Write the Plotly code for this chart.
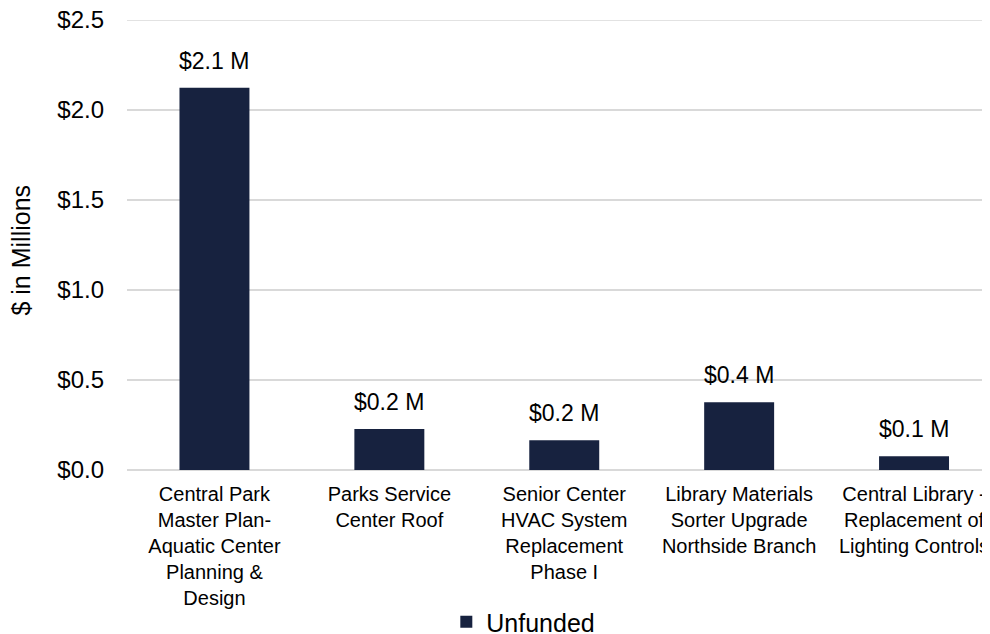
import plotly.graph_objects as go

categories = [
    "Central Park Master Plan-Aquatic Center Planning & Design",
    "Parks Service Center Roof",
    "Senior Center HVAC System Replacement Phase I",
    "Library Materials Sorter Upgrade Northside Branch",
    "Central Library - Replacement of Lighting Controls",
]
tick_labels = [
    "Central Park<br>Master Plan-<br>Aquatic Center<br>Planning &<br>Design",
    "Parks Service<br>Center Roof",
    "Senior Center<br>HVAC System<br>Replacement<br>Phase I",
    "Library Materials<br>Sorter Upgrade<br>Northside Branch",
    "Central Library -<br>Replacement of<br>Lighting Controls",
]
unfunded = [2.124, 0.228, 0.165, 0.376, 0.076]
y_ticks = [0.0, 0.5, 1.0, 1.5, 2.0, 2.5]
y_tick_text = ["$0.0", "$0.5", "$1.0", "$1.5", "$2.0", "$2.5"]

FONT = "Liberation Sans, Arial, sans-serif"
BAR = "#17223F"
GRID = "#D9D9D9"

# page body has an 8px default margin; size the figure to fill the rest
OFF = 8
W, H = 990 - OFF, 634 - OFF
L, R, T = 126.5 - OFF, 0, 20 - OFF
PH = 450
B = H - T - PH
pw = W - L - R


def px_x(sx):
    return (sx - 126.5) / pw


def px_y(sy):
    return (470 - sy) / PH


fig = go.Figure()
fig.add_trace(go.Bar(
    x=categories, y=unfunded, name="Unfunded",
    marker=dict(color=BAR, line=dict(width=0)),
    width=0.4,
))

for c, v in zip(categories, unfunded):
    fig.add_annotation(
        x=c, y=v, xref="x", yref="y",
        text=f"${v:.1f} M", showarrow=False,
        yanchor="middle", yshift=27,
        font=dict(family=FONT, size=23, color="#000000"),
    )

# top gridline (plotly omits the gridline at the very edge of the range)
fig.add_shape(
    type="line", xref="paper", yref="y",
    x0=0, x1=1, y0=y_ticks[-1], y1=y_ticks[-1],
    line=dict(color=GRID, width=1.5), layer="below",
)

fig.add_annotation(
    xref="paper", yref="paper",
    x=px_x(20), y=px_y(250),
    text="$ in Millions", textangle=-90, showarrow=False,
    xanchor="center", yanchor="middle",
    font=dict(family=FONT, size=25, color="#000000"),
)

fig.update_layout(
    width=W, height=H,
    margin=dict(l=L, r=R, t=T, b=B, pad=0, autoexpand=False),
    paper_bgcolor="white", plot_bgcolor="white",
    font=dict(family=FONT, color="#000000"),
    bargap=0.6,
    showlegend=True,
    legend=dict(
        orientation="h", x=px_x(446), xanchor="left",
        y=px_y(622), yanchor="middle",
        font=dict(family=FONT, size=25, color="#000000"),
        itemwidth=30, bgcolor="rgba(0,0,0,0)",
    ),
    xaxis=dict(
        range=[-0.5, 4.5 - (1001.5 - 990) / 175],
        tickmode="array", tickvals=categories, ticktext=tick_labels,
        tickangle=0, automargin=False, ticklabeloverflow="allow",
        tickfont=dict(family=FONT, size=20, color="#000000"),
        showgrid=False, showline=False, ticks="", zeroline=False,
        ticklabelstandoff=10,
    ),
    yaxis=dict(
        range=[0, 2.5], automargin=False, ticklabeloverflow="allow",
        tickmode="array", tickvals=y_ticks, ticktext=y_tick_text,
        tickfont=dict(family=FONT, size=24, color="#000000"),
        showgrid=True, gridcolor=GRID, gridwidth=1.5,
        zeroline=True, zerolinecolor=GRID, zerolinewidth=1.5,
        showline=False, ticks="", ticklabelstandoff=22,
    ),
)

fig.write_html("out.html")
